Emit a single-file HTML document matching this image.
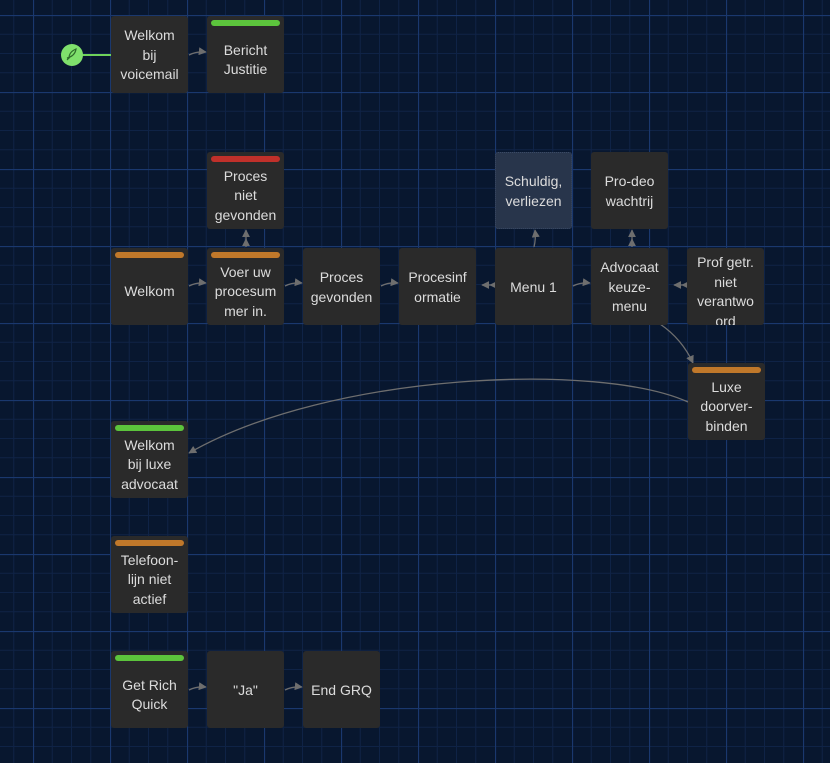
<!DOCTYPE html>
<html><head><meta charset="utf-8"><style>
html,body{margin:0;padding:0;width:830px;height:763px;overflow:hidden;background:#08172f;}
.n{position:absolute;width:77px;height:77px;background:#2a2a2a;border-radius:3px;color:#dcdcdc;font-family:"Liberation Sans",sans-serif;font-size:14px;line-height:19.5px;text-align:center;display:flex;flex-direction:column;justify-content:center;box-sizing:border-box;padding:2px 2px 0 2px;overflow:hidden;}
.n.b{padding-top:11px;}
.bar{position:absolute;left:4px;right:4px;top:4px;height:6px;border-radius:3px;}
.g{background:#5cc43c}.o{background:#c0782a}.r{background:#c0302a}
</style></head><body>
<svg width="830" height="763" style="position:absolute;left:0;top:0">
<defs>
<pattern id="p" x="33" y="15" width="77" height="77" patternUnits="userSpaceOnUse">
<g stroke="#0f2346" stroke-width="1">
<line x1="19.25" y1="0" x2="19.25" y2="77"/><line x1="38.5" y1="0" x2="38.5" y2="77"/><line x1="57.75" y1="0" x2="57.75" y2="77"/>
<line y1="19.25" x1="0" y2="19.25" x2="77"/><line y1="38.5" x1="0" y2="38.5" x2="77"/><line y1="57.75" x1="0" y2="57.75" x2="77"/>
</g>
<g stroke="#1a386e" stroke-width="1.2"><line x1="0.5" y1="0" x2="0.5" y2="77"/><line y1="0.5" x1="0" y2="0.5" x2="77"/></g>
</pattern>
<marker id="a" viewBox="0 0 10 10" refX="9" refY="5" markerWidth="8" markerHeight="8" orient="auto" markerUnits="userSpaceOnUse"><path d="M0,0L10,5L0,10z" fill="#6e6e6e"/></marker>
</defs>
<rect width="830" height="763" fill="url(#p)"/>
<line x1="80" y1="55" x2="111" y2="55" stroke="#6fd35a" stroke-width="2"/>
<circle cx="72" cy="55" r="11" fill="#7fe06c"/>
<path d="M67,60 l4,-4 M69,58 q0,-6 7,-9 q-1,7 -9,9z" stroke="#2e6b2a" stroke-width="1.2" fill="none"/>
<g stroke="#6e6e6e" stroke-width="1.3" fill="none" marker-end="url(#a)">
<path d="M189,55 q8,-4 17,-3"/>
<path d="M189,286 q8,-4 17,-3"/>
<path d="M285,286 q8,-4 17,-3"/>
<path d="M381,286 q8,-4 17,-3"/>
<path d="M573,286 q8,-4 17,-3"/>
<path d="M189,690 q8,-4 17,-3"/>
<path d="M285,690 q8,-4 17,-3"/>
<path d="M534,247 q2,-8 1,-17"/>
<path d="M246,247 l0,-8"/><path d="M246,240 l0,-10"/>
<path d="M632,247 l0,-8"/><path d="M632,240 l0,-10"/>
<path d="M496,285 l-6,0"/><path d="M490,285 l-8,0"/>
<path d="M688,285 l-6,0"/><path d="M682,285 l-8,0"/>
<path d="M660,324 q22,15 33,39"/>
<path d="M688,402 C600,362 330,372 189,453"/>
</g>
</svg>
<div class="n" style="left:111px;top:16px">Welkom<br>bij<br>voicemail</div>
<div class="n b" style="left:207px;top:16px"><div class="bar g"></div>Bericht<br>Justitie</div>
<div class="n b" style="left:207px;top:152px"><div class="bar r"></div>Proces<br>niet<br>gevonden</div>
<div class="n" style="left:495px;top:152px;background:#28354b;border:1px dotted #3a4a66">Schuldig,<br>verliezen</div>
<div class="n" style="left:591px;top:152px">Pro-deo<br>wachtrij</div>
<div class="n b" style="left:111px;top:248px"><div class="bar o"></div>Welkom</div>
<div class="n b" style="left:207px;top:248px"><div class="bar o"></div>Voer uw<br>procesum<br>mer in.</div>
<div class="n" style="left:303px;top:248px">Proces<br>gevonden</div>
<div class="n" style="left:399px;top:248px">Procesinf<br>ormatie</div>
<div class="n" style="left:495px;top:248px">Menu 1</div>
<div class="n" style="left:591px;top:248px">Advocaat<br>keuze-<br>menu</div>
<div class="n" style="left:687px;top:248px;justify-content:flex-start;padding-top:5px">Prof getr.<br>niet<br>verantwo<br>ord</div>
<div class="n b" style="left:688px;top:363px"><div class="bar o"></div>Luxe<br>doorver-<br>binden</div>
<div class="n b" style="left:111px;top:421px"><div class="bar g"></div>Welkom<br>bij luxe<br>advocaat</div>
<div class="n b" style="left:111px;top:536px"><div class="bar o"></div>Telefoon-<br>lijn niet<br>actief</div>
<div class="n b" style="left:111px;top:651px"><div class="bar g"></div>Get Rich<br>Quick</div>
<div class="n" style="left:207px;top:651px">"Ja"</div>
<div class="n" style="left:303px;top:651px">End GRQ</div>
</body></html>
